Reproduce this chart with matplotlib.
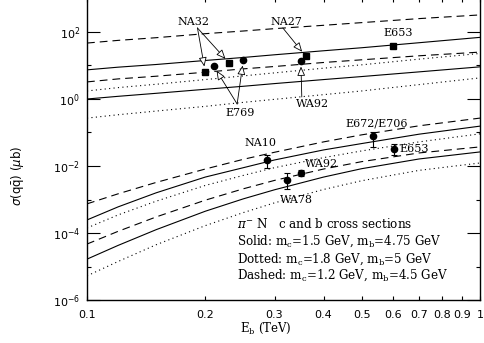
import numpy as np
import matplotlib
matplotlib.use("Agg")
import matplotlib.pyplot as plt
from matplotlib.ticker import FixedLocator, NullLocator, NullFormatter

# -----------------------------
# Curves (log10 of sigma in microbarn)
# -----------------------------
energy_grid = [0.10, 0.12, 0.15, 0.20, 0.25, 0.30, 0.40, 0.50, 0.70, 1.00]

# charm, upper set
c_dashed_hi = [1.67, 1.75, 1.83, 1.95, 2.03, 2.10, 2.20, 2.28, 2.40, 2.51]
c_solid_hi = [0.87, 0.95, 1.03, 1.15, 1.24, 1.32, 1.44, 1.53, 1.68, 1.84]
c_dashed_lo = [0.51, 0.60, 0.68, 0.80, 0.90, 0.97, 1.09, 1.17, 1.29, 1.40]
c_dotted_hi = [0.24, 0.34, 0.44, 0.58, 0.69, 0.78, 0.92, 1.02, 1.19, 1.36]
c_solid_lo = [0.00, 0.08, 0.17, 0.29, 0.38, 0.46, 0.58, 0.67, 0.81, 0.96]
c_dotted_lo = [-0.57, -0.47, -0.36, -0.22, -0.10, -0.01, 0.13, 0.24, 0.43, 0.63]

# bottom, lower set
b_dashed_hi = [-3.13, -2.83, -2.49, -2.09, -1.80, -1.59, -1.28, -1.07, -0.80, -0.57]
b_solid_hi = [-3.61, -3.22, -2.80, -2.33, -2.05, -1.82, -1.52, -1.33, -1.05, -0.81]
b_dotted_hi = [-3.85, -3.46, -3.05, -2.58, -2.28, -2.05, -1.75, -1.55, -1.28, -1.04]
b_dashed_lo = [-4.33, -3.95, -3.52, -3.02, -2.68, -2.43, -2.09, -1.87, -1.61, -1.43]
b_solid_lo = [-4.78, -4.37, -3.90, -3.35, -2.98, -2.71, -2.33, -2.08, -1.79, -1.58]
b_dotted_lo = [-5.28, -4.85, -4.35, -3.78, -3.39, -3.10, -2.70, -2.44, -2.13, -1.91]

# -----------------------------
# Measurements
# -----------------------------
na32_E = [0.200, 0.230]
na32_sig = [6.4, 11.9]
e769_E = [0.210, 0.250]
e769_sig = [9.7, 14.6]
wa92_c_E = [0.350]
wa92_c_sig = [13.6]
na27_E = [0.360]
na27_sig = [19.2]
e653_c_E = [0.600]
e653_c_sig = [38.0]

# NA10, WA78, WA92, E672/E706, E653
b_E = [0.287, 0.323, 0.350, 0.535, 0.604]
b_sig = [0.0151, 0.0038, 0.0062, 0.079, 0.032]
b_lo = [0.0087, 0.0020, 0.0050, 0.037, 0.021]
b_hi = [0.0214, 0.0062, 0.0076, 0.102, 0.046]

x_ticks = [0.1, 0.2, 0.3, 0.4, 0.5, 0.6, 0.7, 0.8, 0.9, 1.0]
x_tick_labels = ["0.1", "0.2", "0.3", "0.4", "0.5", "0.6", "0.7", "0.8", "0.9", "1"]
y_major = [1e-6, 1e-4, 1e-2, 1e0, 1e2]
y_major_labels = [r"$10^{-6}$", r"$10^{-4}$", r"$10^{-2}$", r"$10^{0}$", r"$10^{2}$"]
y_minor = [1e-5, 1e-3, 1e-1, 1e1]

# -----------------------------
# Plot
# -----------------------------
SERIF = "DejaVu Serif"
dashed = (0, (7, 4.5))
dotted = (0, (1, 3))

fig = plt.figure(figsize=(4.84, 3.43), dpi=100)
ax = fig.add_axes([87 / 484, 43 / 343, 393 / 484, 301.5 / 343])

E = np.array(energy_grid)
curves = [
    (c_dashed_hi, dashed), (c_solid_hi, "-"), (c_dashed_lo, dashed),
    (c_dotted_hi, dotted), (c_solid_lo, "-"), (c_dotted_lo, dotted),
    (b_dashed_hi, dashed), (b_solid_hi, "-"), (b_dotted_hi, dotted),
    (b_dashed_lo, dashed), (b_solid_lo, "-"), (b_dotted_lo, dotted),
]
for vals, ls in curves:
    ax.plot(E, 10.0 ** np.array(vals), color="black", lw=0.8, ls=ls)

# charm points
ax.errorbar(na32_E, na32_sig, yerr=[[0.8, 1.2], [0.8, 1.2]], fmt="s", ms=4.5,
            color="black", capsize=0, lw=0.8)
ax.errorbar(e769_E, e769_sig, yerr=[[1.0, 1.4], [1.0, 1.4]], fmt="o", ms=4.5,
            color="black", capsize=0, lw=0.8)
ax.errorbar(wa92_c_E, wa92_c_sig, yerr=[[1.5], [1.5]], fmt="o", ms=4.5,
            color="black", capsize=0, lw=0.8)
ax.errorbar(na27_E, na27_sig, yerr=[[2.5], [2.5]], fmt="s", ms=4.5,
            color="black", capsize=0, lw=0.8)
ax.errorbar(e653_c_E, e653_c_sig, yerr=[[5.0], [5.0]], fmt="s", ms=4.5,
            color="black", capsize=2.5, lw=0.8)

# bottom points
b_sig_a = np.array(b_sig)
b_err = [b_sig_a - np.array(b_lo), np.array(b_hi) - b_sig_a]
ax.errorbar(b_E, b_sig, yerr=b_err, fmt="o", ms=4.5, color="black",
            capsize=2.5, lw=0.8, capthick=0.8)

# labels with hollow arrows
arrow = dict(arrowstyle="-|>,head_length=0.7,head_width=0.3", fc="white",
             ec="black", lw=0.6, mutation_scale=8, shrinkA=0, shrinkB=4)
lab = dict(fontsize=8, family=SERIF, ha="center", va="center")

ax.text(0.187, 200, "NA32", **lab)
ax.annotate("", xy=(na32_E[0], na32_sig[0]), xytext=(0.191, 132), arrowprops=arrow)
ax.annotate("", xy=(na32_E[1], na32_sig[1]), xytext=(0.191, 132), arrowprops=arrow)

ax.text(0.245, 0.38, "E769", **lab)
ax.annotate("", xy=(e769_E[0], e769_sig[0]), xytext=(0.241, 0.71), arrowprops=arrow)
ax.annotate("", xy=(e769_E[1], e769_sig[1]), xytext=(0.241, 0.71), arrowprops=arrow)

ax.text(0.321, 200, "NA27", **lab)
ax.annotate("", xy=(na27_E[0], na27_sig[0]), xytext=(0.315, 132), arrowprops=arrow)

ax.text(0.374, 0.71, "WA92", **lab)
ax.annotate("", xy=(wa92_c_E[0], wa92_c_sig[0]), xytext=(0.352, 1.15), arrowprops=arrow)

ax.text(0.618, 93, "E653", **lab)

ax.text(0.277, 0.049, "NA10", **lab)
ax.text(0.547, 0.192, "E672/E706", **lab)
ax.text(0.625, 0.032, "E653", fontsize=8, family=SERIF, ha="left", va="center")
ax.text(0.396, 0.0115, "WA92", **lab)
ax.text(0.342, 9.8e-4, "WA78", **lab)

# legend block
legend_lines = [
    r"$\pi^{-}$ N   c and b cross sections",
    r"Solid: m$_{\rm c}$=1.5 GeV, m$_{\rm b}$=4.75 GeV",
    r"Dotted: m$_{\rm c}$=1.8 GeV, m$_{\rm b}$=5 GeV",
    r"Dashed: m$_{\rm c}$=1.2 GeV, m$_{\rm b}$=4.5 GeV",
]
for i, s in enumerate(legend_lines):
    ax.text(0.382, [0.252, 0.196, 0.136, 0.083][i], s, transform=ax.transAxes,
            fontsize=8.6, family=SERIF, math_fontfamily="dejavuserif",
            ha="left", va="center")

# axes
ax.set_xscale("log")
ax.set_yscale("log")
ax.set_xlim(0.1, 1.0)
ax.set_ylim(1e-6, 1e3)

ax.xaxis.set_major_locator(FixedLocator(x_ticks))
ax.set_xticklabels(x_tick_labels)
ax.xaxis.set_minor_locator(NullLocator())
ax.yaxis.set_major_locator(FixedLocator(y_major))
ax.set_yticklabels(y_major_labels)
ax.yaxis.set_minor_locator(FixedLocator(y_minor))
ax.yaxis.set_minor_formatter(NullFormatter())

ax.tick_params(which="both", direction="in", top=True, right=True, width=0.8)
ax.tick_params(axis="y", which="major", length=9.5, pad=5, labelsize=8)
ax.tick_params(axis="y", which="minor", length=3)
ax.tick_params(axis="x", which="major", length=3, pad=7, labelsize=8)
for sp in ax.spines.values():
    sp.set_linewidth(1.0)

fig.text(17 / 484, 1 - 176 / 343, r"$\sigma$(q$\bar{\rm q}$) ($\mu$b)",
         rotation=90, ha="center", va="center", fontsize=8.5)
fig.text(266 / 484, 1 - 328 / 343, r"E$_{\rm b}$ (TeV)", ha="center", va="center",
         fontsize=8.5, family=SERIF, math_fontfamily="dejavuserif")

fig.savefig("out.png", dpi=100)
